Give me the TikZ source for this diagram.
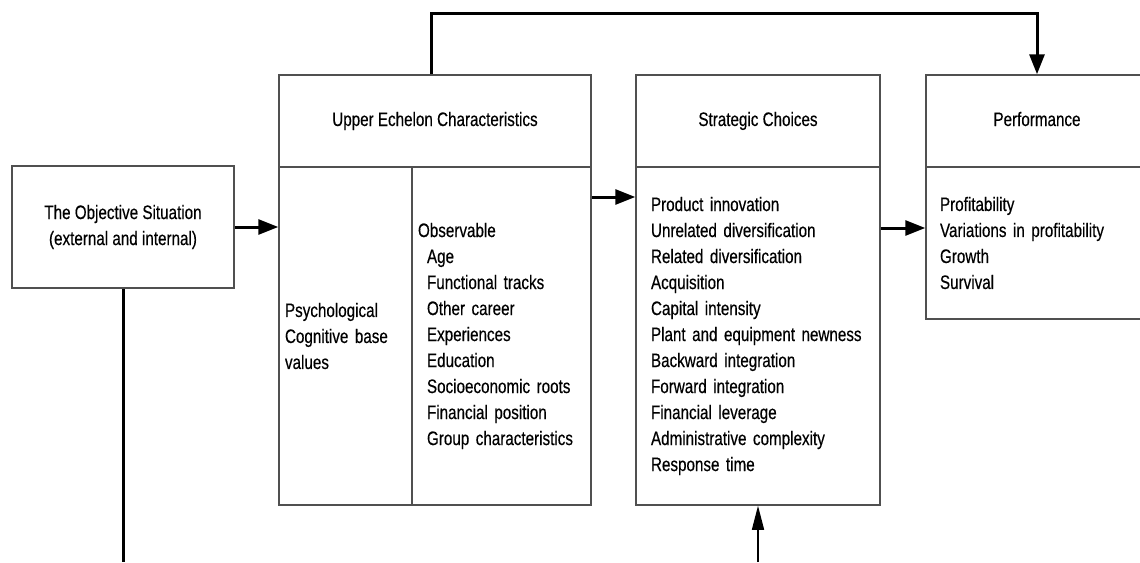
\documentclass[tikz,border=0pt]{standalone}
\usepackage{fontspec}
\setmainfont[FakeStretch=0.78, FakeBold=0.4]{Liberation Sans}
\usepackage{tikz}
\usetikzlibrary{arrows.meta,positioning,calc}
\definecolor{boxline}{HTML}{505050}

\tikzset{
  box/.style={draw=boxline, line width=1.5pt, inner sep=0pt, align=center,
    font=\fontsize{19.5}{26}\selectfont},
  headbox/.style={box, minimum height=92pt, text height=14pt, text depth=4pt},
  listbox/.style={box, align=left, inner xsep=#1},
  flow/.style={line width=3pt, -{Triangle[length=20pt,width=15pt]}},
  thinflow/.style={line width=1.5pt, -{Triangle[length=24pt,width=12pt]}}
}

\begin{document}
\begin{tikzpicture}[x=1pt, y=-1pt]
  \clip (0,0) rectangle (1140,562);

  % --- The objective situation ---
  \node[box, minimum width=222pt, minimum height=122pt] (obj) at (123,227)
    {The Objective Situation\\(external and internal)};

  % --- Upper echelon characteristics ---
  \node[headbox, minimum width=312pt] (uech) at (435,121) {Upper Echelon Characteristics};
  \node[listbox=6pt, text width=121pt, minimum height=338pt] (uecl) at (345.5,336)
    {Psychological\\Cognitive base\\values};
  \node[listbox=6pt, text width=167pt, minimum height=338pt] (uecr) at (501.5,336)
    {Observable\\
     \hspace*{9pt}Age\\
     \hspace*{9pt}Functional tracks\\
     \hspace*{9pt}Other career\\
     \hspace*{9pt}Experiences\\
     \hspace*{9pt}Education\\
     \hspace*{9pt}Socioeconomic roots\\
     \hspace*{9pt}Financial position\\
     \hspace*{9pt}Group characteristics};

  % --- Strategic choices ---
  \node[headbox, minimum width=244pt] (sch) at (758,121) {Strategic Choices};
  \node[listbox=15pt, text width=214pt, minimum height=338pt] (scb) at (758,336)
    {Product innovation\\
     Unrelated diversification\\
     Related diversification\\
     Acquisition\\
     Capital intensity\\
     Plant and equipment newness\\
     Backward integration\\
     Forward integration\\
     Financial leverage\\
     Administrative complexity\\
     Response time};

  % --- Performance ---
  \node[headbox, minimum width=222pt] (perfh) at (1037,121) {Performance};
  \node[listbox=14pt, text width=194pt, minimum height=152pt] (perfb) at (1037,243)
    {Profitability\\
     Variations in profitability\\
     Growth\\
     Survival};

  % free ends at the lower edge
  \coordinate (objout) at (123,562);
  \coordinate (scin) at (758,562);

  % --- Connectors ---
  \draw[flow] (obj.east) -- (obj.east -| uecl.west);
  \draw[flow] (uecr.east |- 0,197) -- (scb.west |- 0,197);
  \draw[flow] (scb.east |- 0,228) -- (perfb.west |- 0,228);
  \draw[flow] ([xshift=-4pt]uech.north) -- ++(0,-61) -| (perfh.north);
  \draw[line width=3pt] (obj.south) -- (objout);
  \draw[thinflow] (scin) -- (scb.south);
\end{tikzpicture}
\end{document}
